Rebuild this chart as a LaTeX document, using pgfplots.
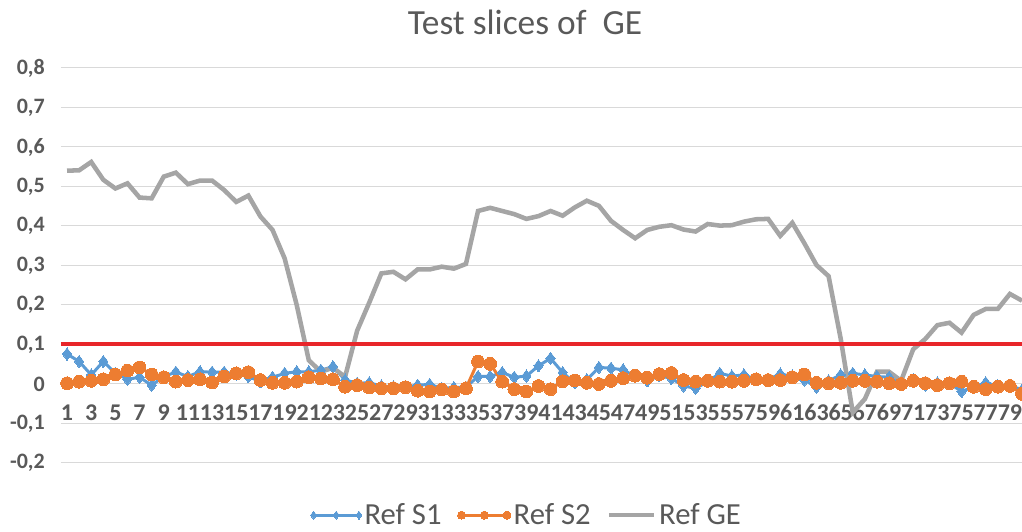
\documentclass[border=0pt]{standalone}
\usepackage{pgfplots}
\usepackage{pgfplotstable}
\pgfplotsset{compat=1.18}
\usepackage{fontspec}
\setmainfont{Carlito}
\definecolor{s1}{HTML}{5B9BD5}
\definecolor{s2}{HTML}{ED7D31}
\definecolor{ge}{HTML}{A5A5A5}
\definecolor{txt}{HTML}{595959}
\definecolor{gridc}{HTML}{D9D9D9}
\definecolor{redl}{HTML}{E8262A}
\pgfplotstableread{
x s1 s2 ge
1 0.076 0.002 0.540
2 0.057 0.006 0.541
3 0.023 0.008 0.562
4 0.057 0.012 0.517
5 0.027 0.024 0.495
6 0.012 0.034 0.508
7 0.017 0.042 0.472
8 -0.003 0.024 0.470
9 0.019 0.017 0.525
10 0.030 0.006 0.535
11 0.019 0.010 0.506
12 0.031 0.012 0.515
13 0.030 0.004 0.515
14 0.030 0.019 0.491
15 0.025 0.027 0.461
16 0.019 0.030 0.477
17 0.006 0.010 0.424
18 0.017 0.003 0.390
19 0.027 0.003 0.318
20 0.031 0.006 0.200
21 0.031 0.017 0.060
22 0.035 0.014 0.031
23 0.044 0.012 0.041
24 0.010 -0.007 0.018
25 0.002 -0.003 0.135
26 0.003 -0.009 0.206
27 -0.005 -0.011 0.280
28 -0.007 -0.011 0.284
29 -0.008 -0.008 0.265
30 -0.003 -0.017 0.290
31 -0.001 -0.019 0.290
32 -0.011 -0.014 0.297
33 -0.009 -0.019 0.292
34 -0.008 -0.011 0.304
35 0.019 0.057 0.438
36 0.019 0.051 0.446
37 0.029 0.006 0.438
38 0.017 -0.013 0.430
39 0.020 -0.019 0.418
40 0.046 -0.005 0.425
41 0.065 -0.013 0.438
42 0.029 0.007 0.426
43 0.003 0.009 0.447
44 0.011 0.003 0.464
45 0.042 0.000 0.451
46 0.040 0.008 0.413
47 0.036 0.015 0.390
48 0.019 0.021 0.369
49 0.008 0.016 0.390
50 0.021 0.025 0.398
51 0.014 0.028 0.402
52 -0.005 0.010 0.391
53 -0.011 0.006 0.386
54 0.006 0.008 0.405
55 0.027 0.006 0.401
56 0.020 0.006 0.402
57 0.023 0.008 0.411
58 0.012 0.012 0.417
59 0.012 0.010 0.418
60 0.025 0.010 0.375
61 0.020 0.017 0.408
62 0.010 0.024 0.356
63 -0.008 0.003 0.301
64 0.008 0.002 0.273
65 0.023 0.003 0.115
66 0.027 0.008 -0.072
67 0.023 0.008 -0.038
68 0.019 0.006 0.031
69 0.017 0.002 0.031
70 0.002 0.000 0.008
71 0.010 0.008 0.088
72 -0.003 0.002 0.114
73 0.003 -0.003 0.149
74 0.002 0.002 0.155
75 -0.019 0.006 0.130
76 -0.007 -0.007 0.175
77 0.003 -0.013 0.190
78 -0.005 -0.007 0.190
79 -0.003 -0.005 0.228
80 -0.015 -0.025 0.211
}\data
\begin{document}
\begin{tikzpicture}
\path[use as bounding box] (0,0) rectangle (766.5pt,399pt);
\node[text=txt, font=\fontsize{26.5}{30}\selectfont] at (393.75pt,382.5pt) {Test slices of\ \ GE};
\begin{axis}[
  at={(45.75pt,51.75pt)}, anchor=south west,
  scale only axis, width=720.75pt, height=296.25pt,
  xmin=0.5, xmax=80, ymin=-0.2, ymax=0.8,
  axis line style={draw=none},
  major tick length=0pt,
  ytick={-0.2,-0.1,0,0.1,0.2,0.3,0.4,0.5,0.6,0.7,0.8},
  yticklabels={{-0,2},{-0,1},{0},{0,1},{0,2},{0,3},{0,4},{0,5},{0,6},{0,7},{0,8}},
  xtick={1,3,...,79},
  ymajorgrids, grid style={gridc, line width=0.75pt},
  tick label style={text=txt},
  yticklabel style={font=\fontsize{16.5}{18}\selectfont\bfseries, inner sep=0pt, xshift=-12pt},
  xticklabel style={font=\fontsize{18}{20}\selectfont\bfseries, inner sep=0pt, yshift=44pt},
  /pgf/number format/assume math mode=true,
  legend style={at={(0.485,-0.132)}, anchor=center, draw=none, fill=none, legend columns=3,
    font=\fontsize{23}{25}\selectfont, text=txt, inner sep=0pt,
    /tikz/every even column/.append style={column sep=10pt}},
  legend image code/.code={\draw[#1, mark size=3pt] plot coordinates {(0pt,0pt)(17pt,0pt)(34pt,0pt)};},
]
\addplot[s1, line width=2.25pt, mark=diamond*, mark size=4.6pt, mark options={fill=s1, draw=s1, line width=0pt}] table[x=x, y=s1] {\data};
\addlegendentry{Ref S1}
\addplot[s2, line width=2.25pt, mark=*, mark size=4.8pt, mark options={fill=s2, draw=s2, line width=0pt}] table[x=x, y=s2] {\data};
\addlegendentry{Ref S2}
\addplot[ge, line width=3.4pt, mark=none] table[x=x, y=ge] {\data};
\addlegendentry{Ref GE}
\addplot[redl, line width=3pt, forget plot] coordinates {(0.5,0.1) (80,0.1)};
\end{axis}
\end{tikzpicture}
\end{document}
